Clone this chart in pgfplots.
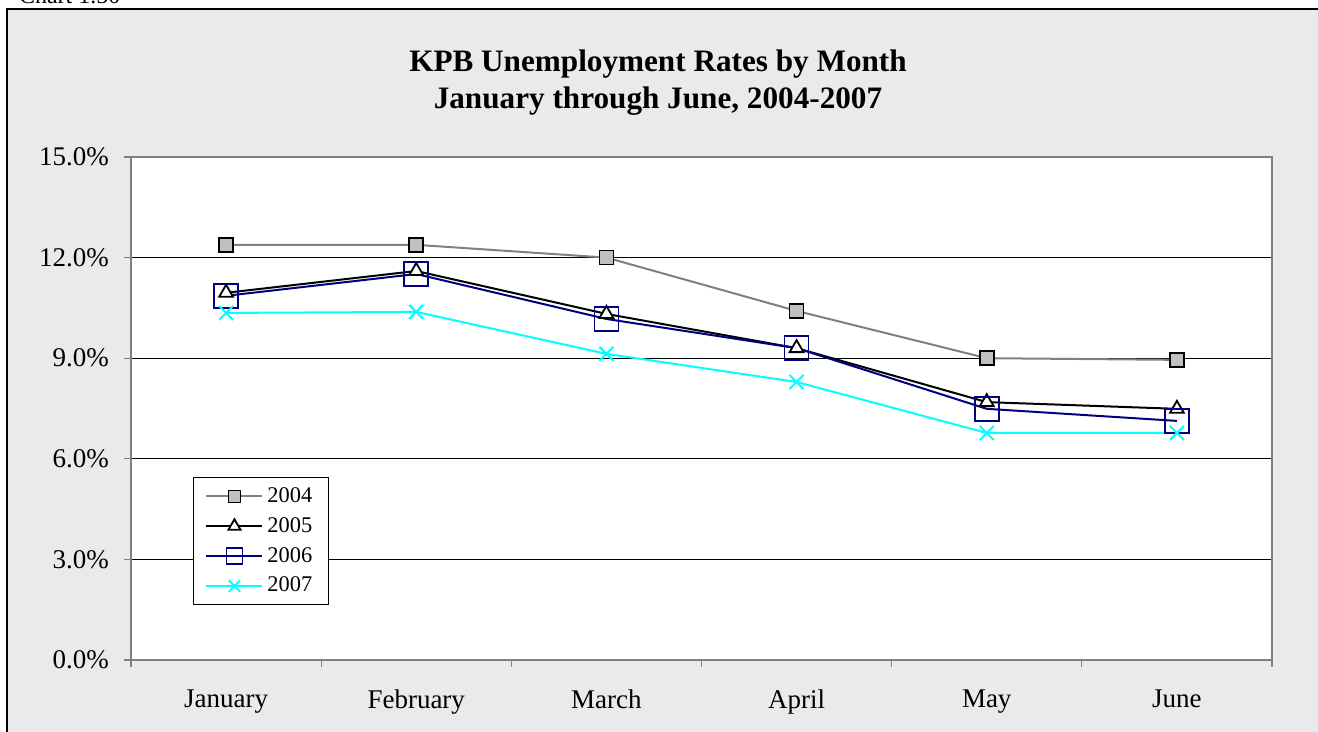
\documentclass[border=0pt]{standalone}
\usepackage{pgfplots}
\pgfplotsset{compat=1.18}
\usepackage{fontspec}
\setmainfont{Liberation Serif}
\definecolor{bgfill}{RGB}{234,234,234}
\definecolor{frame}{RGB}{128,128,128}
\definecolor{c2004}{RGB}{128,128,128}
\definecolor{m2004}{RGB}{192,192,192}
\definecolor{c2006}{RGB}{0,0,128}
\definecolor{c2007}{RGB}{0,255,255}

\begin{document}
\begin{tikzpicture}
  % page is 1318x732 px, 1 px = 0.5pt
  \clip (0,0) rectangle (659pt,366pt);
  \draw[black, line width=0.6pt, fill=bgfill] (3.5pt,-10pt) rectangle (670pt,361.5pt);
  \node[anchor=base west, font=\fontsize{12}{14}\selectfont] at (6pt,364pt) {Chart 1.50};
  \node[align=center, font=\bfseries\fontsize{15.6}{18.5}\selectfont] at (329pt,324.5pt)
    {KPB Unemployment Rates by Month\\January through June, 2004-2007};

  \begin{axis}[
      at={(65.5pt,36pt)}, anchor=south west,
      scale only axis,
      width=570.5pt, height=251.5pt,
      axis background/.style={fill=white},
      axis line style={frame, line width=0.6pt},
      xmin=-0.5, xmax=5.5,
      ymin=0, ymax=0.15,
      ytick={0,0.03,...,0.151},
      yticklabel={\pgfmathparse{100*\tick}\pgfmathprintnumber[fixed,fixed zerofill,precision=1]{\pgfmathresult}\%},
      /pgf/number format/assume math mode=true,
      ymajorgrids,
      major grid style={black, line width=0.5pt},
      xtick={0,...,5},
      xticklabels={January,February,March,April,May,June},
      major x tick style={draw=none},
      minor xtick={-0.5,0.5,...,5.5},
      tick align=outside,
      tick style={frame, line width=0.6pt},
      major tick length=3.5pt, minor tick length=3.5pt,
      xtick pos=bottom, ytick pos=left,
      tick label style={font=\fontsize{13.5}{15}\selectfont},
      xticklabel style={yshift=-8pt},
      yticklabel style={xshift=-4pt},
      legend style={at={(0.0543,0.364)}, anchor=north west, draw=black, line width=0.5pt,
        font=\fontsize{11.2}{13}\selectfont, row sep=2pt, inner xsep=6pt, inner ysep=3pt},
      legend image code/.code={\draw[mark repeat=2,mark phase=2,#1]
        plot coordinates {(0pt,0pt)(14pt,0pt)(28pt,0pt)};},
      legend cell align=left,
      clip=false,
    ]
    \addplot[c2004, line width=1pt, mark=square*, mark size=3.5pt,
      mark options={fill=m2004, draw=black, line width=0.8pt},
      legend image post style={mark size=3pt}]
      coordinates {(0,0.1238) (1,0.1238) (2,0.1200) (3,0.1041) (4,0.0900) (5,0.0895)};
    \addlegendentry{2004}
    \addplot[black, line width=1pt, mark=triangle*, mark size=4pt,
      mark options={fill=white, draw=black, line width=0.9pt},
      legend image post style={mark size=3.5pt}]
      coordinates {(0,0.1095) (1,0.1160) (2,0.1032) (3,0.0930) (4,0.0769) (5,0.0749)};
    \addlegendentry{2005}
    \addplot[c2006, line width=1pt, mark=square, mark size=6pt,
      mark options={draw=c2006, line width=0.8pt},
      legend image post style={mark size=4pt}]
      coordinates {(0,0.1086) (1,0.1151) (2,0.1017) (3,0.0930) (4,0.0749) (5,0.0713)};
    \addlegendentry{2006}
    \addplot[c2007, line width=1pt, mark=x, mark size=5pt,
      mark options={draw=c2007, line width=1pt},
      legend image post style={mark size=4pt}]
      coordinates {(0,0.1035) (1,0.1038) (2,0.0913) (3,0.0829) (4,0.0677) (5,0.0677)};
    \addlegendentry{2007}
  \end{axis}
\end{tikzpicture}
\end{document}
